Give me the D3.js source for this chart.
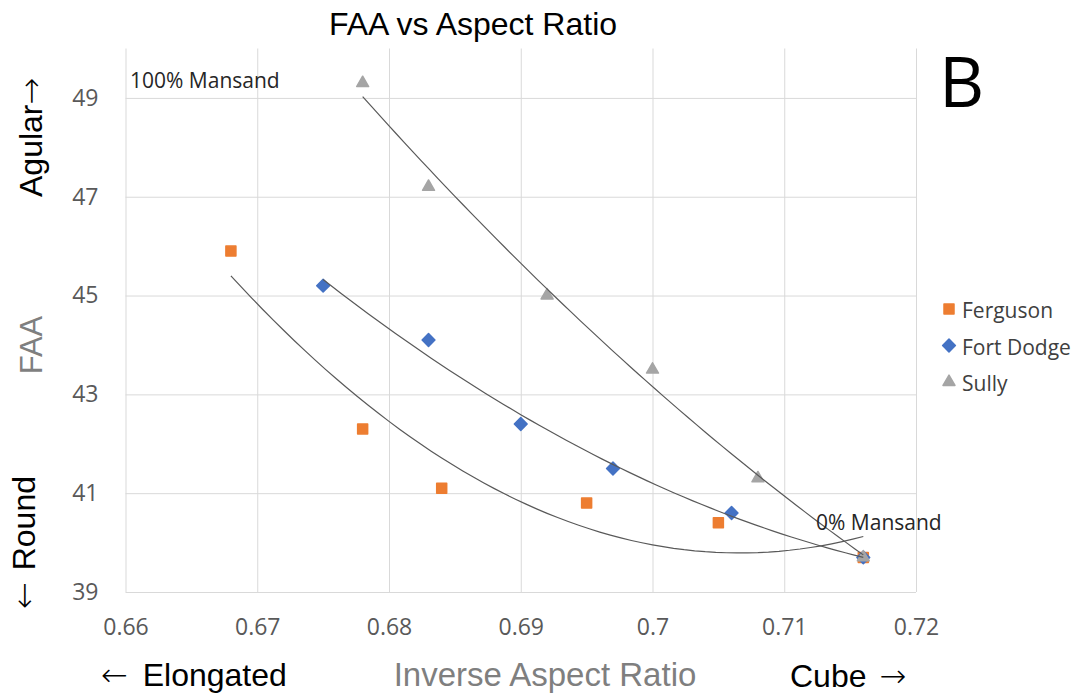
<!DOCTYPE html>
<html>
<head>
<meta charset="utf-8">
<script src="https://cdn.jsdelivr.net/npm/d3@7"></script>
<style>
  body { margin: 0; background: #fff; }
  .arrow { font-family: 'DejaVu Sans', sans-serif; }
</style>
</head>
<body>
<div id="chart"></div>
<script>
// data
var seriesNames = ["Ferguson", "Fort Dodge", "Sully"];
var fergusonX = [0.668, 0.678, 0.684, 0.695, 0.705, 0.716];
var fergusonY = [45.9, 42.3, 41.1, 40.8, 40.4, 39.7];
var fortDodgeX = [0.675, 0.683, 0.690, 0.697, 0.706, 0.716];
var fortDodgeY = [45.2, 44.1, 42.4, 41.5, 40.6, 39.7];
var sullyX = [0.678, 0.683, 0.692, 0.700, 0.708, 0.716];
var sullyY = [49.3, 47.2, 45.0, 43.5, 41.3, 39.7];

var xTicks = [0.66, 0.67, 0.68, 0.69, 0.70, 0.71, 0.72];
var xTickLabels = ["0.66", "0.67", "0.68", "0.69", "0.7", "0.71", "0.72"];
var yTicks = [39, 41, 43, 45, 47, 49];
var yTickLabels = ["39", "41", "43", "45", "47", "49"];

var colors = ["#ED7D31", "#4472C4", "#A5A5A5"];

var margin = {top: 48.5, right: 165, bottom: 102, left: 125.5},
    width = 1081 - margin.left - margin.right,
    height = 694 - margin.top - margin.bottom;

var svg = d3.select("#chart")
  .append("svg")
    .attr("width", 1081)
    .attr("height", 694);

var g = svg.append("g")
    .attr("transform", "translate(" + margin.left + "," + margin.top + ")");

var x = d3.scaleLinear().domain([0.66, 0.72]).range([0, width]);
var y = d3.scaleLinear().domain([39, 50]).range([height, 0]);

// x grid + labels
var xAxis = g.append("g")
    .attr("transform", "translate(0," + height + ")")
    .call(d3.axisBottom(x)
      .tickValues(xTicks)
      .tickSize(-height)
      .tickPadding(27)
      .tickFormat(function(d, i) { return xTickLabels[i]; }));

// y grid + labels
var yAxis = g.append("g")
    .call(d3.axisLeft(y)
      .tickValues(yTicks)
      .tickSizeInner(-width)
      .tickSizeOuter(0)
      .tickPadding(27)
      .tickFormat(function(d, i) { return yTickLabels[i]; }));

[xAxis, yAxis].forEach(function(a) {
  a.select(".domain").remove();
  a.selectAll("line").attr("stroke", "#D9D9D9").attr("stroke-width", 1);
  a.selectAll("text")
    .attr("fill", "#595959")
    .style("font-family", "'Open Sans', sans-serif")
    .style("font-size", "23px");
});

// series
var series = [
  {name: seriesNames[0], xs: fergusonX, ys: fergusonY, color: colors[0], shape: "square"},
  {name: seriesNames[1], xs: fortDodgeX, ys: fortDodgeY, color: colors[1], shape: "diamond"},
  {name: seriesNames[2], xs: sullyX, ys: sullyY, color: colors[2], shape: "triangle"}
];

function symbolPath(shape) {
  if (shape === "square") return d3.symbol().type(d3.symbolSquare).size(100)();
  if (shape === "diamond") return d3.symbol().type(d3.symbolSquare).size(82)();
  return d3.symbol().type(d3.symbolTriangle).size(62)();
}
function symbolRotate(shape) { return shape === "diamond" ? " rotate(45)" : ""; }

series.forEach(function(s) {
  var pts = s.xs.map(function(v, i) { return [v, s.ys[i]]; });
  g.selectAll(null)
    .data(pts)
    .enter()
    .append("path")
      .attr("d", symbolPath(s.shape))
      .attr("transform", function(d) {
        return "translate(" + x(d[0]) + "," + y(d[1]) + ")" + symbolRotate(s.shape);
      })
      .attr("fill", s.color)
      .attr("stroke", s.color)
      .attr("stroke-width", 1.5)
      .attr("stroke-linejoin", "round");
});

// 2nd order polynomial trendlines (least squares)
function polyFit(xs, ys) {
  var c = 0.69, S = [0, 0, 0, 0, 0], T = [0, 0, 0];
  xs.forEach(function(xv, i) {
    var u = xv - c;
    for (var k = 0; k < 5; k++) S[k] += Math.pow(u, k);
    for (var k2 = 0; k2 < 3; k2++) T[k2] += ys[i] * Math.pow(u, k2);
  });
  var A = [[S[0], S[1], S[2], T[0]], [S[1], S[2], S[3], T[1]], [S[2], S[3], S[4], T[2]]];
  for (var i = 0; i < 3; i++) {
    for (var j = i + 1; j < 3; j++) {
      var f = A[j][i] / A[i][i];
      for (var k = i; k < 4; k++) A[j][k] -= f * A[i][k];
    }
  }
  var b = [0, 0, 0];
  for (var i2 = 2; i2 >= 0; i2--) {
    var sum = A[i2][3];
    for (var k3 = i2 + 1; k3 < 3; k3++) sum -= A[i2][k3] * b[k3];
    b[i2] = sum / A[i2][i2];
  }
  return function(xv) { var u = xv - c; return b[0] + b[1] * u + b[2] * u * u; };
}

var line = d3.line()
  .x(function(d) { return x(d[0]); })
  .y(function(d) { return y(d[1]); });

series.forEach(function(s) {
  var f = polyFit(s.xs, s.ys);
  var x0 = d3.min(s.xs), x1 = d3.max(s.xs);
  var pts = d3.range(0, 61).map(function(i) {
    var xv = x0 + (x1 - x0) * i / 60;
    return [xv, f(xv)];
  });
  g.append("path")
    .attr("d", line(pts))
    .attr("fill", "none")
    .attr("stroke", "#595959")
    .attr("stroke-width", 1.2);
});

// legend
series.forEach(function(s, i) {
  var base = 318 + i * 36.5;
  svg.append("path")
    .attr("d", symbolPath(s.shape))
    .attr("transform", "translate(949," + (base - 9) + ")" + symbolRotate(s.shape))
    .attr("fill", s.color)
    .attr("stroke", s.color)
    .attr("stroke-width", 1.5)
    .attr("stroke-linejoin", "round");
  svg.append("text")
    .attr("x", 962)
    .attr("y", base)
    .attr("fill", "#404040")
    .style("font-family", "'Open Sans', sans-serif")
    .style("font-size", "21px")
    .text(s.name);
});

// titles and annotations
var arial = "'Liberation Sans', Arial, sans-serif";

svg.append("text")
    .attr("x", 473)
    .attr("y", 35)
    .attr("text-anchor", "middle")
    .style("font-family", arial)
    .style("font-size", "32px")
    .text("FAA vs Aspect Ratio");

// helper: text with arrow glyph in a wider font
function arrowText(t, parts) {
  parts.forEach(function(p) {
    var ts = t.append("tspan").text(p.s);
    if (p.arrow) ts.attr("class", "arrow").attr("font-weight", 300);
    if (p.dx) ts.attr("dx", p.dx);
  });
  return t;
}

arrowText(svg.append("text")
    .attr("transform", "translate(42,197) rotate(-90)")
    .style("font-family", arial)
    .style("font-size", "32px"),
  [{s: "Agular"}, {s: "\u2192", arrow: true}]);

svg.append("text")
    .attr("transform", "translate(42,345) rotate(-90)")
    .attr("text-anchor", "middle")
    .attr("fill", "#7F7F7F")
    .style("font-family", arial)
    .style("font-size", "31px")
    .text("FAA");

arrowText(svg.append("text")
    .attr("transform", "translate(35,609) rotate(-90)")
    .style("font-family", arial)
    .style("font-size", "32px"),
  [{s: "\u2190", arrow: true}, {s: " Round", dx: 3}]);

arrowText(svg.append("text")
    .attr("x", 101)
    .attr("y", 686)
    .style("font-family", arial)
    .style("font-size", "32px"),
  [{s: "\u2190", arrow: true}, {s: " Elongated", dx: 6}]);

svg.append("text")
    .attr("x", 545)
    .attr("y", 686)
    .attr("text-anchor", "middle")
    .attr("fill", "#7F7F7F")
    .style("font-family", arial)
    .style("font-size", "33px")
    .text("Inverse Aspect Ratio");

arrowText(svg.append("text")
    .attr("x", 790)
    .attr("y", 687)
    .style("font-family", arial)
    .style("font-size", "32px"),
  [{s: "Cube "}, {s: "\u2192", arrow: true, dx: 4}]);

svg.append("text")
    .attr("x", 939)
    .attr("y", 107)
    .style("font-family", "'Open Sans', sans-serif")
    .style("font-size", "70px")
    .text("B");

svg.append("text")
    .attr("x", 130)
    .attr("y", 88)
    .attr("fill", "#262626")
    .style("font-family", "'Open Sans', sans-serif")
    .style("font-size", "21px")
    .text("100% Mansand");

svg.append("text")
    .attr("x", 816)
    .attr("y", 530)
    .attr("fill", "#262626")
    .style("font-family", "'Open Sans', sans-serif")
    .style("font-size", "21px")
    .text("0% Mansand");
</script>
</body>
</html>
